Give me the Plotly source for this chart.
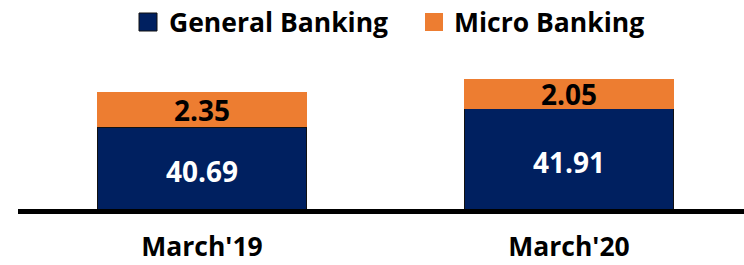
import plotly.graph_objects as go

categories = ["March'19", "March'20"]
general_banking = [40.69, 41.91]
micro_banking = [2.35, 2.05]
series_names = ["General Banking", "Micro Banking"]

NAVY = "#002060"
ORANGE = "#ED7D31"
FONT = "Open Sans"

# body margin is removed in post_script, so pixel targets are page coordinates
W, H = 744, 265
ML, MR, MT, MB = 18, 0, 60, H - 209
plot_w = W - ML - MR
plot_h = H - MT - MB
Y_MIN = 35.15
Y_MAX = Y_MIN + plot_h / 14.8
X_LEFT = (18 - 202) / 367
X_RIGHT = X_LEFT + plot_w / 367

fig = go.Figure()
fig.add_trace(go.Bar(
    x=categories, y=general_banking, name=series_names[0],
    marker=dict(color=NAVY, line=dict(color="#111111", width=1)),
    width=0.572, showlegend=False, hoverinfo="skip",
))
fig.add_trace(go.Bar(
    x=categories, y=micro_banking, name=series_names[1],
    marker=dict(color=ORANGE, line=dict(width=0)),
    text=[f"{v:.2f}" for v in micro_banking],
    textposition="inside", insidetextanchor="middle", textangle=0,
    constraintext="none",
    textfont=dict(family=FONT, size=28, color="black", weight="bold"),
    width=0.572, showlegend=False, hoverinfo="skip",
))

annotations = []
for c, v in zip(categories, general_banking):
    annotations.append(dict(x=c, y=(Y_MIN + v) / 2, xref="x", yref="y",
                            text=f"{v:.2f}", showarrow=False, yshift=-3,
                            font=dict(family=FONT, size=28, color="white", weight="bold")))

def px(x):
    return (x - ML) / plot_w

def py(y):
    return (H - MB - y) / plot_h

legend_items = [
    (series_names[0], NAVY, 139, 167),
    (series_names[1], ORANGE, 425, 452),
]
shapes = []
for name, color, sx, tx in legend_items:
    shapes.append(dict(type="rect", xref="paper", yref="paper",
                       x0=px(sx), x1=px(sx + 18), y0=py(31), y1=py(13),
                       fillcolor=color, line=dict(color="#111111", width=1 if color == NAVY else 0)))
    annotations.append(dict(xref="paper", yref="paper", x=px(tx), y=py(22),
                            xanchor="left", yanchor="middle", showarrow=False,
                            text=name, font=dict(family=FONT, size=26.5, color="black", weight="bold")))

fig.update_layout(
    width=W, height=H,
    margin=dict(l=ML, r=MR, t=MT, b=MB, autoexpand=False),
    barmode="stack",
    plot_bgcolor="white", paper_bgcolor="white",
    shapes=shapes, annotations=annotations,
    xaxis=dict(range=[X_LEFT, X_RIGHT], showline=True, linecolor="black", linewidth=5,
               ticks="", showgrid=False, zeroline=False, automargin=False,
               ticklabelstandoff=10,
               tickfont=dict(family=FONT, size=26.5, color="black", weight="bold")),
    yaxis=dict(range=[Y_MIN, Y_MAX], visible=False, showgrid=False, automargin=False),
)

fig.write_html("out.html", config={"displayModeBar": False},
               post_script="document.body.style.margin='0';")
